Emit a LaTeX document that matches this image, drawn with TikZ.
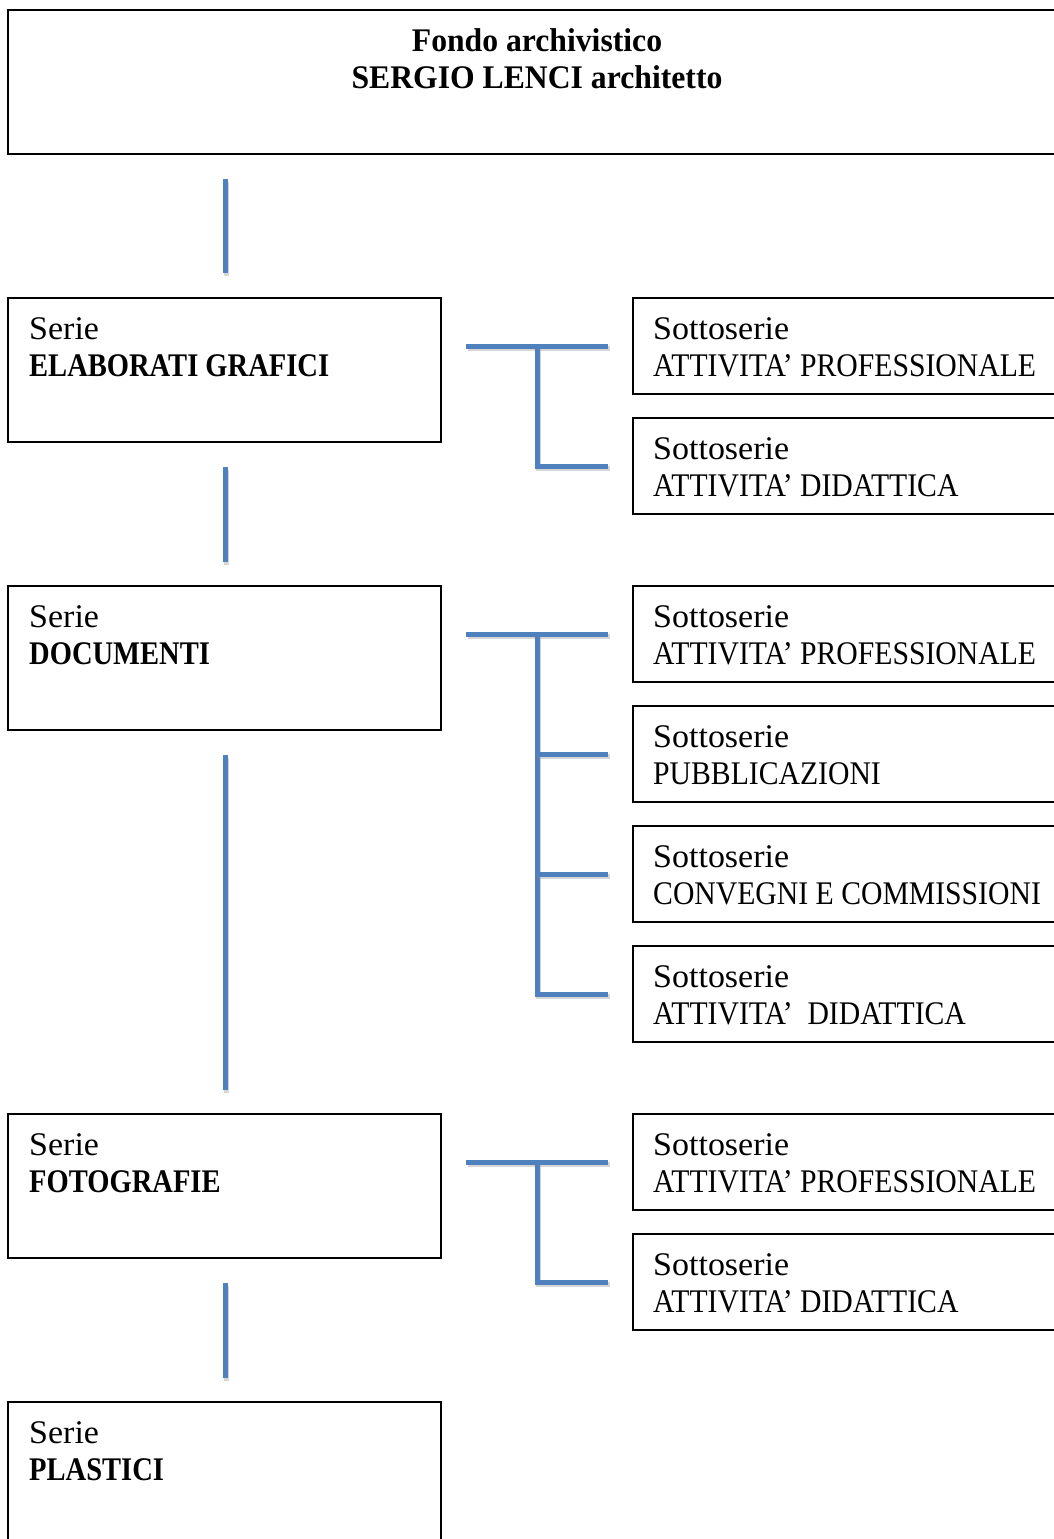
\documentclass[tikz,border=0pt]{standalone}
\usepackage{fontspec}
\setmainfont{Liberation Serif}[FakeStretch=1.03]
\newfontfamily\capsf[FakeStretch=0.90]{Liberation Serif}
\newfontfamily\boldcapsf[FakeStretch=0.865]{Liberation Serif}
\newfontfamily\titlef[FakeStretch=0.96]{Liberation Serif}
\definecolor{connblue}{HTML}{4F81BD}
\begin{document}
\begin{tikzpicture}[x=1pt,y=-1pt]
\tikzset{
  box/.style={draw=black, line width=1.6pt, anchor=north west, inner sep=0pt, outer sep=0pt},
  serbox/.style={box, minimum width=433pt, minimum height=144pt},
  subbox/.style={box, minimum width=440pt, minimum height=96pt},
  lbl/.style={anchor=base west, inner sep=0pt, font=\fontsize{33}{38}\selectfont},
  caplbl/.style={lbl, font=\fontsize{33}{38}\selectfont\capsf},
  boldlbl/.style={lbl, font=\fontsize{33}{38}\selectfont\boldcapsf\bfseries},
  titlelbl/.style={anchor=base, inner sep=0pt, font=\fontsize{33}{38}\selectfont\titlef\bfseries},
  conn/.style={draw=connblue, line width=5pt, line join=miter,
    preaction={draw=black!35, opacity=0.45, line width=5pt,
      transform canvas={shift={(1.5pt,-2.5pt)}}}},
}
\useasboundingbox (0,0) rectangle (1054,1539);
\clip (0,0) rectangle (1054,1539);
\fill[white] (0,0) rectangle (1054,1539);

% top box
\node[box, minimum width=1062pt, minimum height=144pt] (top) at (8,10) {};
\node[titlelbl] (topA) at (537,51) {Fondo archivistico};
\node[titlelbl] (topB) at (537,88) {SERGIO LENCI architetto};

% series boxes
\node[serbox] (eg) at (8,298) {};
\node[lbl] (egA) at ([shift={(21,41)}]eg.north west) {Serie};
\node[boldlbl] (egB) at ([shift={(21,78)}]eg.north west) {ELABORATI GRAFICI};

\node[serbox] (doc) at (8,586) {};
\node[lbl] (docA) at ([shift={(21,41)}]doc.north west) {Serie};
\node[boldlbl] (docB) at ([shift={(21,78)}]doc.north west) {DOCUMENTI};

\node[serbox] (fot) at (8,1114) {};
\node[lbl] (fotA) at ([shift={(21,41)}]fot.north west) {Serie};
\node[boldlbl] (fotB) at ([shift={(21,78)}]fot.north west) {FOTOGRAFIE};

\node[serbox] (pla) at (8,1402) {};
\node[lbl] (plaA) at ([shift={(21,41)}]pla.north west) {Serie};
\node[boldlbl] (plaB) at ([shift={(21,78)}]pla.north west) {PLASTICI};

% sub-series boxes
\foreach \nm/\y/\txt in {
  s1/298/{ATTIVITA’ PROFESSIONALE},
  s2/418/{ATTIVITA’ DIDATTICA},
  s3/586/{ATTIVITA’ PROFESSIONALE},
  s4/706/{PUBBLICAZIONI},
  s5/826/{CONVEGNI E COMMISSIONI},
  s6/946/{ATTIVITA’~ DIDATTICA},
  s7/1114/{ATTIVITA’ PROFESSIONALE},
  s8/1234/{ATTIVITA’ DIDATTICA}}{
  \node[subbox] (\nm) at (633,\y) {};
  \node[lbl] (\nm A) at ([shift={(20,41)}]\nm.north west) {Sottoserie};
  \node[caplbl] (\nm B) at ([shift={(20,78)}]\nm.north west) {\txt};
}

% vertical series connectors
\coordinate (v1a) at (225,179); \coordinate (v1b) at (225,273);
\coordinate (v2a) at (225,467); \coordinate (v2b) at (225,562);
\coordinate (v3a) at (225,755); \coordinate (v3b) at (225,1090);
\coordinate (v4a) at (225,1283); \coordinate (v4b) at (225,1378);
\draw[conn] (v1a) -- (v1b);
\draw[conn] (v2a) -- (v2b);
\draw[conn] (v3a) -- (v3b);
\draw[conn] (v4a) -- (v4b);

% bracket connectors
\foreach \g/\ya/\yb in {g1/346/466, g2/634/994, g3/1162/1282}{
  \coordinate (\g a) at (466,\ya);
  \coordinate (\g b) at (608,\ya);
  \coordinate (\g j) at (537,\ya);
  \coordinate (\g e) at (537,\yb);
  \coordinate (\g f) at (608,\yb);
  \draw[conn] (\g a) -- (\g b);
  \draw[conn] (\g j) -- (\g e) -- (\g f);
}
\coordinate (g2m1) at (537,754); \coordinate (g2n1) at (608,754);
\coordinate (g2m2) at (537,874); \coordinate (g2n2) at (608,874);
\draw[conn] (g2m1) -- (g2n1);
\draw[conn] (g2m2) -- (g2n2);
\end{tikzpicture}
\end{document}
